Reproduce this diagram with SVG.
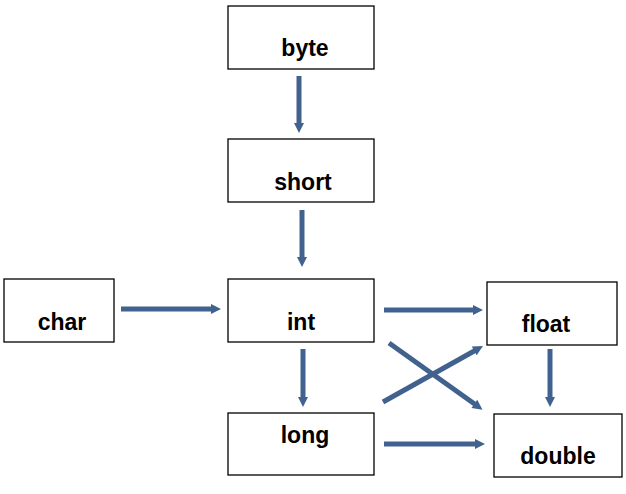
<svg xmlns="http://www.w3.org/2000/svg" width="626" height="494" viewBox="0 0 626 494">
<defs>
<style>
.box{fill:#fff;stroke:#000;stroke-width:1.3}
.lbl{font-family:"Liberation Sans",Arial,sans-serif;font-weight:bold;font-size:23px;fill:#000;text-anchor:middle}
.arr{stroke:#41628E;stroke-width:5;fill:none;marker-end:url(#ah)}
</style>
<marker id="ah" markerUnits="userSpaceOnUse" markerWidth="12" markerHeight="12" viewBox="0 0 10 12" refX="2" refY="6" orient="auto">
<path d="M0,1 L10,6 L0,11 Z" fill="#41628E"/>
</marker>
</defs>
<rect width="626" height="494" fill="#fff"/>
<g id="connectors">
<line class="arr" x1="299" y1="76" x2="299" y2="125"/>
<line class="arr" x1="302" y1="210" x2="302" y2="259"/>
<line class="arr" x1="121" y1="309" x2="213" y2="309"/>
<line class="arr" x1="303" y1="349" x2="303" y2="399"/>
<line class="arr" x1="384" y1="310" x2="475" y2="310"/>
<line class="arr" x1="384" y1="444" x2="477" y2="444"/>
<line class="arr" x1="550" y1="349" x2="550" y2="399"/>
<line class="arr" x1="389" y1="343" x2="476" y2="405"/>
<line class="arr" x1="383" y1="402" x2="476" y2="350"/>
</g>
<g id="byte"><rect class="box" x="228" y="6" width="146" height="63"/><text class="lbl" x="305" y="56">byte</text></g>
<g id="short"><rect class="box" x="228" y="139" width="146" height="63"/><text class="lbl" x="303" y="190">short</text></g>
<g id="char"><rect class="box" x="4" y="279" width="110" height="63"/><text class="lbl" x="62" y="330">char</text></g>
<g id="int"><rect class="box" x="228" y="279" width="146" height="63"/><text class="lbl" x="301" y="330">int</text></g>
<g id="long"><rect class="box" x="228" y="413" width="146" height="62"/><text class="lbl" x="305" y="443">long</text></g>
<g id="float"><rect class="box" x="487" y="282" width="130" height="63"/><text class="lbl" x="546" y="332">float</text></g>
<g id="double"><rect class="box" x="494" y="414" width="128" height="63"/><text class="lbl" x="558" y="464">double</text></g>
</svg>
